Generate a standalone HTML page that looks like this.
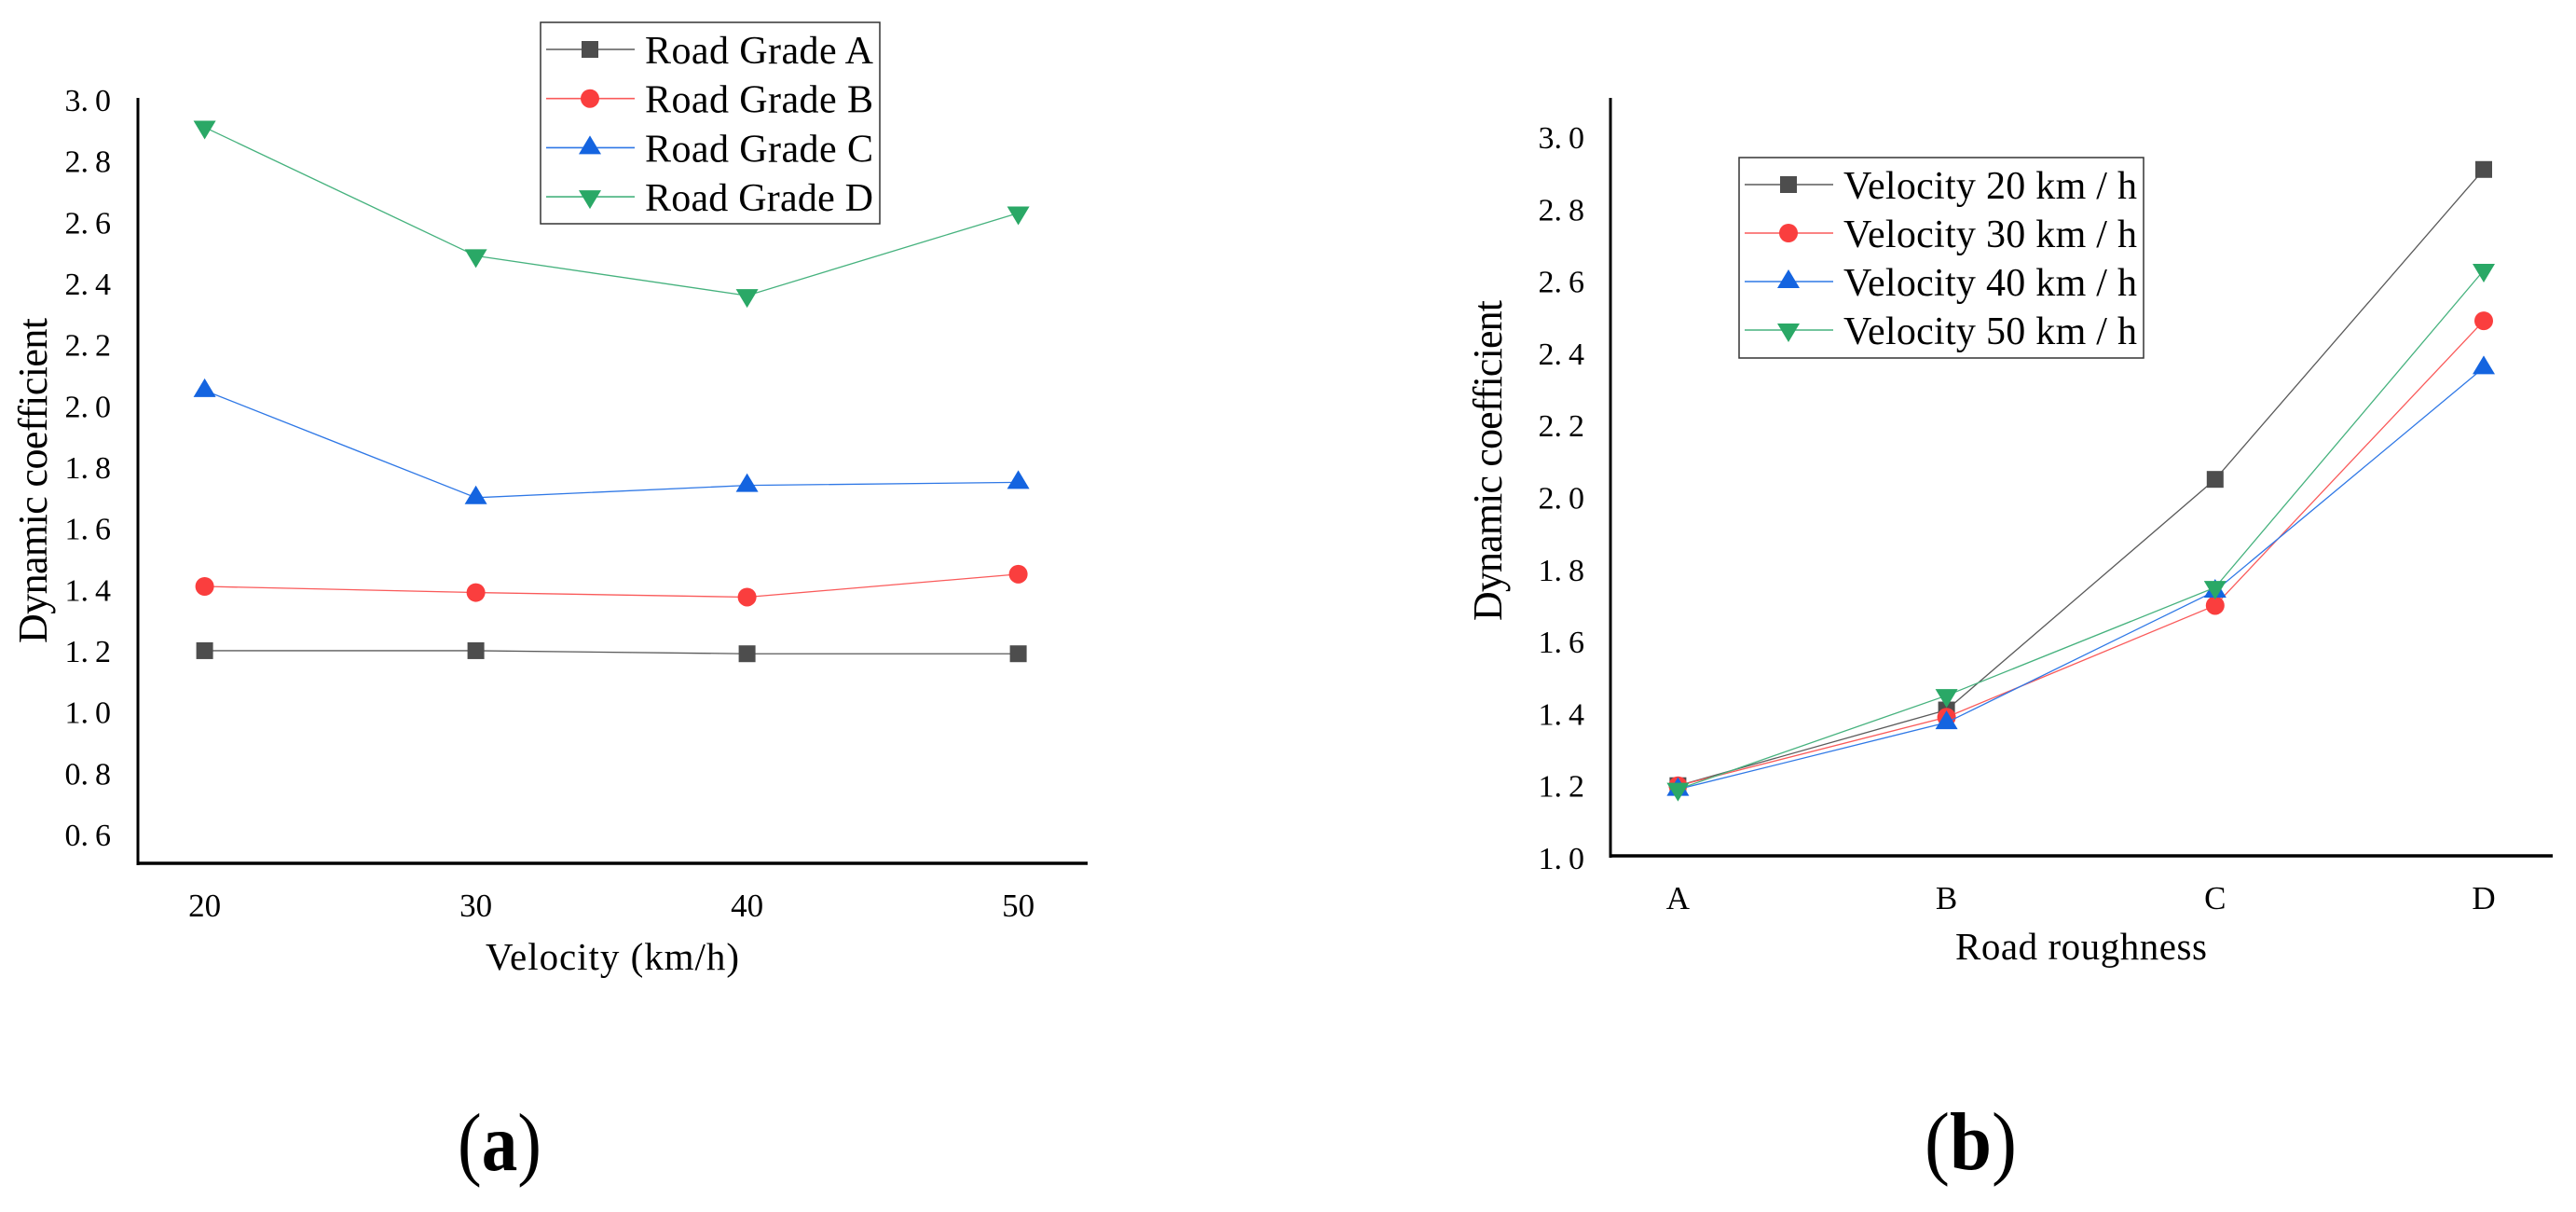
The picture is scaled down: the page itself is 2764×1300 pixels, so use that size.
<!DOCTYPE html>
<html>
<head>
<meta charset="utf-8">
<title>Dynamic coefficient charts</title>
<style>
html,body{margin:0;padding:0;background:#fff;width:2764px;height:1300px;overflow:hidden}
svg{display:block}
text{font-family:"Liberation Serif",serif;fill:#000}
</style>
</head>
<body>
<svg id="fig" xmlns="http://www.w3.org/2000/svg" width="2764" height="1300" viewBox="0 0 2764 1300">
  <rect x="0" y="0" width="2764" height="1300" fill="#fff"/>
  <g id="panelA"></g>
  <g id="panelB"></g>
  <text x="491" y="1255" font-size="88" textLength="90" lengthAdjust="spacingAndGlyphs">(<tspan font-weight="bold">a</tspan>)</text>
  <text x="2065" y="1254" font-size="88" textLength="99" lengthAdjust="spacingAndGlyphs">(<tspan font-weight="bold">b</tspan>)</text>
</svg>
<script>
// Panel (a) data
const velocityCategories = ["20", "30", "40", "50"];
const gradeNames = ["Road Grade A", "Road Grade B", "Road Grade C", "Road Grade D"];
const gradeA = [1.20, 1.20, 1.19, 1.19];
const gradeB = [1.41, 1.39, 1.375, 1.45];
const gradeC = [2.05, 1.70, 1.74, 1.75];
const gradeD = [2.91, 2.49, 2.36, 2.63];
const ticksA = ["3.0", "2.8", "2.6", "2.4", "2.2", "2.0", "1.8", "1.6", "1.4", "1.2", "1.0", "0.8", "0.6"];

// Panel (b) data
const roughnessCategories = ["A", "B", "C", "D"];
const velocityNames = ["Velocity 20 km / h", "Velocity 30 km / h", "Velocity 40 km / h", "Velocity 50 km / h"];
const velocity20 = [1.20, 1.41, 2.05, 2.91];
const velocity30 = [1.20, 1.39, 1.70, 2.49];
const velocity40 = [1.19, 1.375, 1.74, 2.36];
const velocity50 = [1.19, 1.45, 1.75, 2.63];
const ticksB = ["3.0", "2.8", "2.6", "2.4", "2.2", "2.0", "1.8", "1.6", "1.4", "1.2", "1.0"];

const NS = "http://www.w3.org/2000/svg";
const markerColors = ["#4d4d4d", "#fa3e3e", "#1464e0", "#2aa866"];
const lineColors = ["#5a5a5a", "#fa5a5a", "#2f78e6", "#46b27e"];

function make(parent, tag, attrs, txt) {
  const el = document.createElementNS(NS, tag);
  for (const k in attrs) el.setAttribute(k, attrs[k]);
  if (txt !== undefined) el.textContent = txt;
  parent.appendChild(el);
  return el;
}

function drawMarker(parent, kind, x, y, color) {
  let el;
  if (kind === 0) {
    el = make(parent, "rect", {x: x - 9, y: y - 9, width: 18, height: 18, fill: color});
  } else if (kind === 1) {
    el = make(parent, "circle", {cx: x, cy: y, r: 10, fill: color});
  } else if (kind === 2) {
    el = make(parent, "polygon", {points: (x - 12) + "," + (y + 7) + " " + (x + 12) + "," + (y + 7) + " " + x + "," + (y - 13), fill: color});
  } else {
    el = make(parent, "polygon", {points: (x - 12) + "," + (y - 7) + " " + (x + 12) + "," + (y - 7) + " " + x + "," + (y + 13), fill: color});
  }
  
  
  return el;
}

function drawPanel(root, cfg) {
  // series
  cfg.series.forEach(function (vals, s) {
    const g = make(root, "g", {});
    
    
    const pts = vals.map(function (v, i) { return cfg.x(i) + "," + cfg.y(v); }).join(" ");
    const line = make(g, "polyline", {points: pts, fill: "none", stroke: lineColors[s], "stroke-width": 1.3});
    
    
    vals.forEach(function (v, i) { drawMarker(g, s, cfg.x(i), cfg.y(v), markerColors[s]); });
  });

  // axes
  const yAxis = make(root, "line", {x1: cfg.axisX, y1: cfg.axisTop, x2: cfg.axisX, y2: cfg.axisBottom + 2, stroke: "#000", "stroke-width": 3});
  
  
  const xAxis = make(root, "line", {x1: cfg.axisX - 1.5, y1: cfg.axisBottom, x2: cfg.axisRight, y2: cfg.axisBottom, stroke: "#000", "stroke-width": 3.5});
  
  

  // y tick labels
  cfg.ticks.forEach(function (t) {
    const lbl = make(root, "text", {x: cfg.tickRight, y: cfg.y(parseFloat(t)) + 12, "font-size": 34, "text-anchor": "end", dx: "0 0 7"}, t);
    
    
  });

  // x tick labels
  cfg.categories.forEach(function (c, i) {
    const lbl = make(root, "text", {x: cfg.x(i), y: cfg.xTickBase, "font-size": 35, "text-anchor": "middle"}, c);
    
    
  });

  // titles
  const xt = make(root, "text", {x: cfg.xTitleX, y: cfg.xTitleY, "font-size": 41, textLength: cfg.xTitleLen, lengthAdjust: "spacing"}, cfg.xTitle);
  
  
  const yt = make(root, "text", {transform: "translate(" + cfg.yTitleX + "," + cfg.yTitleBottom + ") rotate(-90)", x: 0, y: 0, "font-size": 44, textLength: cfg.yTitleLen, lengthAdjust: "spacing"}, "Dynamic coefficient");
  
  

  // legend
  const lg = make(root, "g", {});
  
  
  const box = make(lg, "rect", {x: cfg.lgX, y: cfg.lgY, width: cfg.lgW, height: cfg.lgH, fill: "#fff", stroke: "#333", "stroke-width": 1.5});
  
  
  cfg.names.forEach(function (n, s) {
    const cy = cfg.lgRow0 + s * cfg.lgStep;
    const e = make(lg, "g", {});
    
    
    const l = make(e, "line", {x1: cfg.lgX + 6, x2: cfg.lgX + 101, y1: cy, y2: cy, stroke: lineColors[s], "stroke-width": 1.6});
    
    
    drawMarker(e, s, cfg.lgX + 53, cy, markerColors[s]);
    const t = make(e, "text", {x: cfg.lgTextX, y: cy + 15, "font-size": 42, textLength: cfg.lgTextLen, lengthAdjust: "spacing"}, n);
    
    
  });
}

function xScaleA(i) { return 219.6 + i * 291; }
function yScaleA(v) { return 107 + (3 - v) * 328.3; }
function xScaleB(i) { return 1800.4 + i * 288.2; }
function yScaleB(v) { return 147 + (3 - v) * 386.5; }

drawPanel(document.getElementById("panelA"), {
  x: xScaleA, y: yScaleA,
  series: [gradeA, gradeB, gradeC, gradeD],
  names: gradeNames, categories: velocityCategories, ticks: ticksA,
  axisX: 148, axisTop: 105, axisBottom: 926, axisRight: 1167,
  tickRight: 119, xTickBase: 983,
  xTitle: "Velocity (km/h)", xTitleX: 521, xTitleY: 1040, xTitleLen: 272,
  yTitleX: 50, yTitleBottom: 690, yTitleLen: 349,
  lgX: 580, lgY: 24, lgW: 364, lgH: 216, lgRow0: 53, lgStep: 52.7,
  lgTextX: 692, lgTextLen: 245
});

drawPanel(document.getElementById("panelB"), {
  x: xScaleB, y: yScaleB,
  series: [velocity20, velocity30, velocity40, velocity50],
  names: velocityNames, categories: roughnessCategories, ticks: ticksB,
  axisX: 1728, axisTop: 105, axisBottom: 918, axisRight: 2739,
  tickRight: 1700, xTickBase: 975,
  xTitle: "Road roughness", xTitleX: 2098, xTitleY: 1029, xTitleLen: 270,
  yTitleX: 1611, yTitleBottom: 666, yTitleLen: 344,
  lgX: 1866, lgY: 169, lgW: 434, lgH: 215, lgRow0: 198, lgStep: 52,
  lgTextX: 1978, lgTextLen: 315
});
</script>
</body>
</html>
